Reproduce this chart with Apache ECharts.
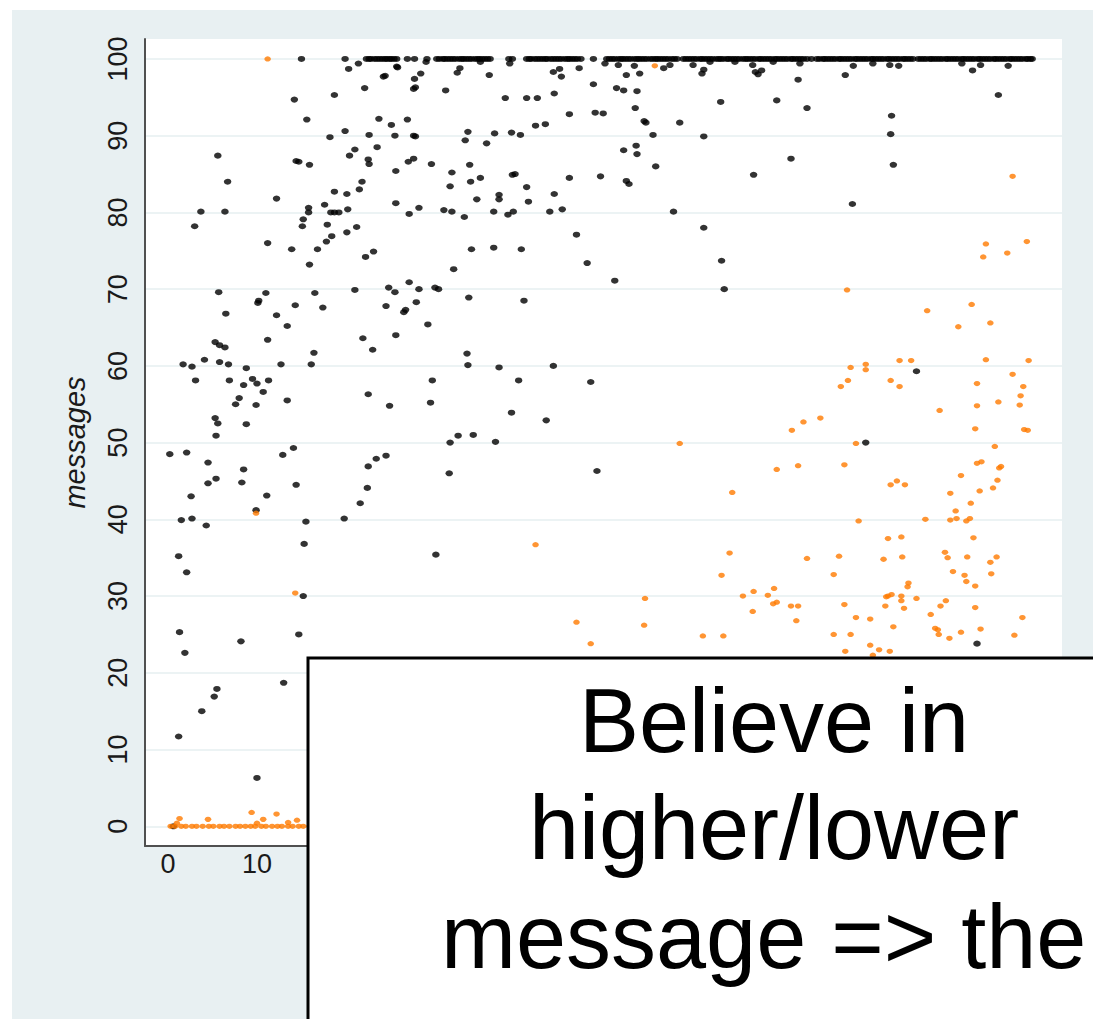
<!DOCTYPE html>
<html>
<head>
<meta charset="utf-8">
<script src="https://cdn.jsdelivr.net/npm/echarts@6/dist/echarts.min.js"></script>
<style>
  html, body { margin: 0; padding: 0; background: #ffffff; }
  #chart { width: 1093px; height: 1019px; }
</style>
</head>
<body>
<div id="chart"></div>
<script>
// Share of messages (y) by respondent position (x).
// Black: responses that moved toward the message, orange: the rest.

// Black responses sitting at the 100 ceiling (x positions)
const ceilingX = [
  15.0, 19.9, 22.3, 22.6, 22.8, 23.2, 23.5, 23.8, 24.1, 24.4, 24.6, 24.9, 25.1, 25.4, 25.7,
  26.9, 27.7, 29.1,
  30.2, 30.5, 30.9, 31.1, 31.4, 31.7, 32.0, 32.3, 32.7, 33.0, 33.2, 33.5, 33.8, 34.1,
  34.5, 34.8, 35.0, 35.3, 35.6, 35.9, 36.2, 38.3, 38.7,
  40.3, 40.6, 40.8, 41.2, 41.5, 41.8, 42.1, 42.4, 42.6, 43.0, 43.3, 43.6, 43.9, 44.2,
  44.6, 44.9, 45.1, 45.4, 45.7, 46.0, 46.4, 47.8,
  49.3, 49.6, 49.9, 50.2, 50.6, 50.9, 51.1, 51.4, 51.7, 52.0, 52.4, 52.7, 52.9, 53.2,
  53.5, 53.8, 54.2, 54.5, 54.8, 55.0, 55.3, 55.6, 55.9, 56.2, 56.6, 56.9, 57.2,
  57.9, 58.2, 58.5, 58.8, 59.1, 59.4, 59.8, 60.0, 60.3, 60.6, 60.9, 61.2, 61.6, 61.9,
  62.1, 62.4, 62.8, 63.0, 63.3, 63.6, 63.9, 64.2, 64.6, 64.9, 65.1, 65.4, 65.7, 66.0,
  66.4, 66.6, 66.9, 67.2, 67.5, 67.8, 68.2, 68.4, 68.7, 69.0, 69.3, 69.6, 70.0, 70.2,
  70.5, 70.8, 71.1, 71.4, 71.8, 72.3,
  72.9, 73.2, 73.6, 73.8, 74.1, 74.4, 74.7, 75.0, 75.4, 75.6, 75.9, 76.2, 76.5, 76.8,
  77.2, 77.4, 77.7, 78.0, 78.3, 78.6, 79.0, 79.2, 79.5, 79.8, 80.1, 80.4, 80.8, 81.0,
  81.3, 81.6, 81.9, 82.2, 82.6, 82.8, 83.1, 83.4, 83.7,
  84.3, 84.6, 84.9, 85.2, 85.6, 85.8, 86.1, 86.4, 86.7, 87.0, 87.4, 87.6, 87.9, 88.2,
  88.5, 88.8, 89.2, 89.4, 89.7, 90.0, 90.3, 90.6, 91.0, 91.2, 91.5, 91.8, 92.1, 92.4,
  92.8, 93.0, 93.3, 93.6, 93.9, 94.2, 94.6, 94.8, 95.1, 95.4, 95.7, 96.0, 96.4, 96.6,
  96.9, 97.1
];

// Other black responses [x, messages]
const blackPoints = [
  [20.3,98.7],[21.4,99.4],[24.2,97.7],[24.4,97.8],[25.7,99.0],[22.1,96.2],[18.7,95.3],
  [14.2,94.7],[15.6,92.1],[23.7,92.2],[25.1,91.4],[19.9,90.6],[18.2,89.8],[22.6,90.1],
  [25.5,90.0],[5.6,87.4],[14.4,86.7],[14.7,86.6],[15.9,86.2],[20.4,87.4],[21.0,88.2],
  [23.5,88.5],[22.5,86.9],[22.6,86.3],[25.6,85.4],[6.7,84.0],[12.2,81.8],[18.7,82.7],
  [20.1,82.4],[21.8,84.0],[21.5,83.0],[3.7,80.1],[6.4,80.1],[3.0,78.2],[15.8,80.6],
  [15.8,80.0],[17.6,81.0],[18.3,80.0],[18.7,80.0],[19.2,80.0],[20.2,80.4],[15.2,79.1],
  [15.1,78.2],[17.9,78.4],[21.2,78.1],[20.1,77.4],[18.4,76.9],[17.8,76.2],[25.6,81.2],
  [11.2,76.0],[13.9,75.2],[16.8,75.2],[22.2,74.2],[23.1,74.9],[15.9,73.2],[5.7,69.6],
  [11.0,69.5],[10.1,68.2],[10.2,68.5],[6.5,66.8],[12.2,66.6],[13.4,65.2],[14.3,67.9],
  [16.5,69.5],[17.4,67.6],[21.0,69.9],[24.8,70.2],[25.5,69.6],[24.5,67.8],[21.9,63.6],
  [5.3,63.1],[5.8,62.7],[6.4,62.4],[11.2,63.4],
  [25.6,64.0],[23.0,62.1],[16.4,61.7],[1.7,60.2],[2.7,59.9],[4.1,60.8],[5.8,60.5],
  [6.8,60.2],[8.8,59.7],[12.7,60.2],[16.1,60.2],[3.1,58.1],[6.9,58.1],[8.5,57.5],
  [9.5,58.3],[10.0,57.7],[11.3,58.1],[10.7,56.6],[8.0,55.8],[7.6,55.0],[9.9,54.9],
  [13.4,55.5],[29.7,58.1],[22.5,56.3],[24.9,54.8],[29.5,55.2],[5.3,53.2],[5.6,52.5],
  [8.8,52.4],[5.4,50.9],[0.2,48.5],[2.1,48.7],[4.5,47.4],[8.5,46.5],[5.4,45.3],
  [4.5,44.7],[8.3,44.8],[2.6,43.0],[11.1,43.1],[9.9,41.2],[12.9,48.4],[14.1,49.3],
  [14.4,44.5],[1.5,39.9],[2.7,40.1],[4.3,39.2],[15.5,39.7],[15.3,36.8],[19.8,40.1],
  [21.6,42.1],[22.4,44.1],[22.5,46.9],[23.4,47.9],[24.5,48.3],[31.7,50.0],[32.6,50.9],
  [31.6,46.0],[30.1,35.4],[1.2,35.2],[2.1,33.1],[15.2,30.0],[1.3,25.3],[1.9,22.6],
  [8.2,24.1],[14.7,25.0],
  [1.2,11.7],[3.8,15.0],[5.2,16.9],[5.5,17.9],[13.0,18.7],[10.0,6.3],[0.6,0.0],
  [25.8,98.9],[27.7,97.4],[28.4,98.1],[27.8,96.3],[27.6,96.1],[32.5,98.2],[32.8,98.8],
  [36.1,97.9],[29.0,99.6],[35.1,99.6],[38.4,99.4],[43.3,98.3],[44.0,98.7],[44.2,97.7],
  [46.2,98.8],[49.1,99.4],[50.6,99.2],[51.5,97.9],[52.4,99.1],[53.0,98.1],[55.7,98.8],
  [56.4,99.2],[59.0,99.2],[31.2,95.9],[37.9,94.9],[40.3,94.9],[41.5,94.9],[43.4,95.5],
  [47.8,96.7],[50.4,96.2],[51.2,95.9],[52.7,95.8],[52.5,93.6],[53.5,91.9],[53.7,91.7],
  [57.5,91.7],[48.0,93.0],[48.9,92.9],[45.1,92.8],[41.3,91.3],[42.4,91.5],[54.5,90.1],
  [51.2,88.1],[52.6,88.7],[52.7,87.6],[54.8,86.0],[26.9,92.1],[27.6,90.0],[27.8,89.9],
  [33.4,89.4],[33.7,90.5],[36.7,90.3],[38.6,90.4],[39.6,90.1],[35.8,89.0],[27.0,86.6],
  [27.6,87.0],[29.6,86.3],[31.9,85.2],[33.9,86.2],[34.0,84.0],[35.1,84.5],[31.7,83.4],
  [38.7,84.9],[39.0,85.0],[40.3,83.3],[45.1,84.5],[48.6,84.7],[51.5,84.1],[51.8,83.7],
  [34.7,81.7],[37.2,82.3],[37.2,81.7],[40.5,81.4],[43.4,82.4],[44.3,80.4],[42.9,80.1],
  [56.8,80.1],[27.1,79.8],[28.2,80.6],[31.0,80.3],[31.9,80.1],[33.3,79.4],[36.6,80.1],
  [38.2,79.7],[38.8,80.1],[34.1,75.2],[36.6,75.4],[39.7,75.2],[45.9,77.1],[47.1,73.4],
  [50.2,71.1],[27.1,70.9],[28.2,70.0],[27.9,68.3],[30.0,70.2],[30.4,70.0],[29.2,65.4],
  [26.5,67.0],[26.7,67.3],[33.8,68.9],[40.0,68.5],[32.1,72.6],
  [33.6,61.6],[33.7,60.1],[37.2,59.8],[39.4,58.1],[43.3,60.0],[47.5,57.9],[38.6,53.9],
  [42.5,52.9],[34.3,51.0],[36.8,50.1],[48.2,46.3],
  [84.1,59.3],[78.4,50.0],[90.9,23.8],
  [60.0,98.1],[60.2,98.6],[60.9,99.6],[66.0,98.3],[66.3,98.0],[66.7,98.5],[65.7,99.2],
  [68.0,99.6],[63.7,99.6],[70.8,97.3],[71.0,99.4],[76.1,97.9],[77.0,99.1],[79.2,99.4],
  [81.1,99.2],[82.1,99.1],[89.2,99.4],[90.4,98.5],[91.3,99.2],[94.4,99.1],[62.1,94.4],
  [68.4,94.6],[71.8,93.6],[93.3,95.3],[81.3,92.6],[81.2,90.2],[81.5,86.2],[60.2,89.9],
  [70.0,87.0],[65.8,84.9],[76.9,81.1],[60.2,78.0],[62.2,73.7],[62.5,70.0]
];

// Orange responses sitting at zero (x positions)
const floorX = [
  0.3, 0.8, 1.5, 2.0, 2.7, 3.2, 3.9, 4.6, 5.1, 5.8, 6.3, 6.9, 7.6, 8.1, 8.7,
  9.3, 9.8, 10.5, 11.0, 11.7, 12.3, 12.8, 13.5, 14.0, 14.7, 15.2, 15.9, 16.4
];

// Other orange responses [x, messages]
const orangePoints = [
  [1.3,1.0],[1.0,0.4],[4.5,0.9],[9.4,1.8],[10.7,0.9],[12.2,1.6],[14.5,0.8],[13.5,0.5],
  [10.0,0.4],
  [11.2,100.0],[54.7,99.1],[9.9,40.8],[14.3,30.4],
  [57.5,49.9],[63.4,43.5],[41.3,36.7],[63.1,35.6],[62.2,32.7],[64.6,30.0],[65.8,30.6],
  [65.7,28.0],[53.6,29.7],[53.5,26.2],[45.9,26.6],[47.5,23.8],[60.1,24.8],[62.4,24.8],
  [82.2,60.7],[83.5,60.7],[78.4,60.2],[78.4,59.5],[76.7,59.8],[76.4,58.1],[75.6,57.3],
  [81.2,58.1],[82.2,57.3],[91.9,60.8],[96.7,60.7],[94.9,58.9],[90.9,57.7],[96.1,57.3],
  [95.8,56.1],[95.7,54.9],[93.3,55.3],[90.9,54.8],[86.7,54.2],[90.7,51.8],[96.2,51.7],
  [96.6,51.6],[73.3,53.2],[71.4,52.7],[70.1,51.6],[77.3,49.9],[92.9,49.5],[68.4,46.5],
  [70.8,47.0],[76.0,47.1],[81.2,44.5],[81.9,45.0],[82.8,44.5],[89.1,45.7],[90.9,47.3],
  [91.4,47.5],[93.4,46.7],[93.6,46.9],[93.2,45.1],[92.7,44.1],[87.9,43.4],[91.2,43.7],
  [90.2,42.1],[88.5,41.1],[87.9,39.9],[88.6,40.1],[89.7,39.8],[90.1,40.1],[85.1,40.0],
  [77.6,39.8],[90.5,37.6],[80.9,37.5],[82.4,37.7],[71.8,34.9],[75.4,35.2],[80.4,34.8],
  [82.5,35.1],[87.3,35.7],[87.6,35.0],[89.8,35.1],[92.4,34.4],[93.1,35.1],[74.8,32.8],
  [88.2,33.2],[89.5,32.7],[89.7,31.9],[90.7,31.3],[92.5,32.9],[83.2,31.7],[83.1,31.2],
  [68.1,31.0],[67.4,30.1],[68.0,29.0],[68.4,29.2],[70.0,28.7],[70.8,28.7],[70.6,26.8],
  [76.0,28.9],[77.3,27.2],[78.9,27.0],[74.8,25.0],[76.7,25.0],[80.9,30.0],[81.3,30.2],
  [80.7,29.9],[82.4,30.0],[82.4,29.4],[80.6,28.7],[82.7,28.4],[84.1,29.7],[81.5,26.0],
  [86.8,28.7],[87.4,29.4],[85.7,27.6],[86.2,25.8],[86.5,25.6],[86.6,25.0],[87.8,24.5],
  [89.1,25.3],[91.3,25.7],[90.7,28.5],[96.0,27.2],[95.1,24.9],[78.9,23.6],[79.9,23.0],
  [81.1,22.8],[76.1,22.8],[79.2,22.3],
  [94.9,84.7],[91.9,75.9],[91.6,74.2],[94.3,74.7],[96.5,76.2],[76.3,69.9],[85.3,67.2],
  [90.3,68.0],[88.8,65.1],[92.4,65.6]
];

// Axis ranges, tick step and the x tick labels left uncovered by the note
const xRange = [-2.58, 100.45];
const yRange = [-2.57, 102.6];
const tickStep = 10;
const xTickLabels = [0, 10];

// Overlay note
const noteLines = ['Believe in', 'higher/lower', 'message => the'];

const blackData = ceilingX.map(x => [x, 100]).concat(blackPoints);
const orangeData = floorX.map(x => [x, 0]).concat(orangePoints);

const FONT = '"Liberation Sans", Arial, Helvetica, sans-serif';
const chart = echarts.init(document.getElementById('chart'), null, { renderer: 'svg' });

chart.setOption({
  backgroundColor: '#ffffff',
  animation: false,
  grid: {
    left: 145, top: 39, width: 917, height: 807,
    show: true, backgroundColor: '#ffffff', borderWidth: 0
  },
  xAxis: {
    type: 'value',
    min: xRange[0], max: xRange[1],
    minInterval: tickStep, maxInterval: tickStep,
    axisLine: { show: true, onZero: false, lineStyle: { color: '#505050', width: 2 } },
    axisTick: { show: false },
    splitLine: { show: false },
    axisLabel: {
      customValues: xTickLabels, hideOverlap: false,
      margin: 4, fontSize: 27, fontFamily: FONT, color: '#1a1a1a'
    }
  },
  yAxis: {
    type: 'value',
    min: yRange[0], max: yRange[1],
    minInterval: tickStep, maxInterval: tickStep,
    name: 'messages',
    nameLocation: 'middle',
    nameGap: 56,
    nameTextStyle: { fontSize: 29, fontStyle: 'italic', fontFamily: FONT, color: '#1a1a1a' },
    axisLine: { show: true, onZero: false, lineStyle: { color: '#505050', width: 2 } },
    axisTick: { show: false },
    splitLine: {
      show: true, showMinLine: false, showMaxLine: false,
      lineStyle: { color: '#e6eff1', width: 1.5 }
    },
    axisLabel: {
      rotate: 90, showMinLabel: false, showMaxLabel: false, hideOverlap: false,
      margin: 14, fontSize: 27, fontFamily: FONT, color: '#1a1a1a'
    }
  },
  series: [
    {
      type: 'scatter',
      name: 'black',
      data: blackData,
      symbol: 'circle',
      symbolSize: [7.5, 6],
      itemStyle: { color: '#000000' },
      z: 3
    },
    {
      type: 'scatter',
      name: 'orange',
      data: orangeData,
      symbol: 'circle',
      symbolSize: [6.6, 5.2],
      itemStyle: { color: '#ff7a00' },
      z: 4
    }
  ],
  graphic: [
    {
      type: 'rect', z: -10, silent: true,
      shape: { x: 12, y: 10, width: 1100, height: 1030 },
      style: { fill: '#e8f0f2' }
    },
    {
      type: 'rect', z: 100, silent: true,
      shape: { x: 308, y: 658, width: 934, height: 420 },
      style: { fill: '#ffffff', stroke: '#000000', lineWidth: 3 }
    },
    {
      type: 'text', z: 101, silent: true, x: 774, y: 720.5,
      style: { text: noteLines[0], font: '90px ' + FONT, fill: '#000000', align: 'center', verticalAlign: 'middle' }
    },
    {
      type: 'text', z: 101, silent: true, x: 774, y: 827.5,
      style: { text: noteLines[1], font: '90px ' + FONT, fill: '#000000', align: 'center', verticalAlign: 'middle' }
    },
    {
      type: 'text', z: 101, silent: true, x: 441, y: 936.5,
      style: { text: noteLines[2], font: '90px ' + FONT, fill: '#000000', align: 'left', verticalAlign: 'middle' }
    }
  ]
});
</script>
</body>
</html>
